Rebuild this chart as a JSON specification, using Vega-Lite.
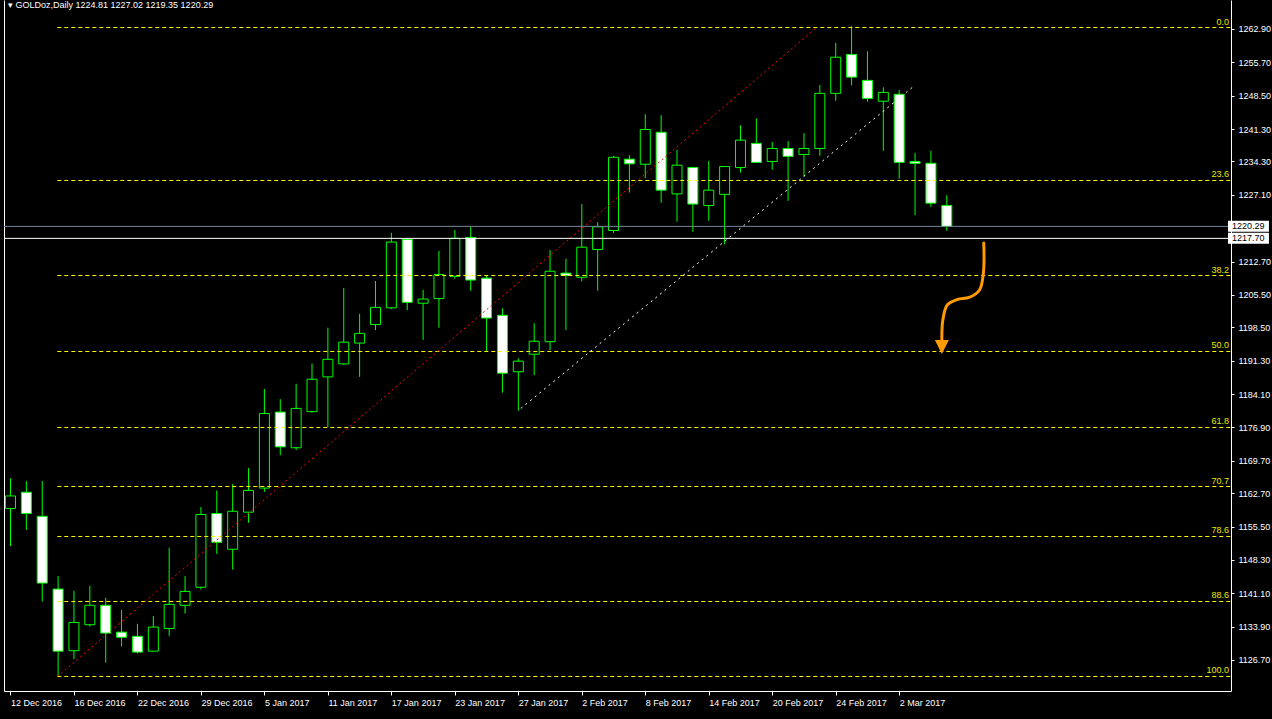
{
  "$schema": "https://vega.github.io/schema/vega-lite/v6.json",
  "width": 1227,
  "height": 691,
  "autosize": {"type": "none"},
  "padding": {"left": 4, "top": 0, "right": 41, "bottom": 28},
  "background": "#000000",
  "config": {"view": {"stroke": null}, "axis": {"grid": false}},
  "title": {"text": "▾  GOLDoz,Daily  1224.81 1227.02 1219.35 1220.29", "anchor": "start", "frame": "group", "orient": "top", "offset": -17, "dx": 4, "baseline": "alphabetic", "color": "#ffffff", "font": "Liberation Sans", "fontSize": 9, "fontWeight": "normal"},
  "datasets": {
    "candles": [
      {"i":0,"d":"12 Dec 2016","o":1159.4,"h":1165.9,"l":1151.3,"c":1162.1},
      {"i":1,"d":"13 Dec 2016","o":1162.9,"h":1165.3,"l":1154.8,"c":1158.3},
      {"i":2,"d":"14 Dec 2016","o":1157.7,"h":1165.3,"l":1139.3,"c":1143.3},
      {"i":3,"d":"15 Dec 2016","o":1142.0,"h":1144.8,"l":1123.1,"c":1128.6},
      {"i":4,"d":"16 Dec 2016","o":1128.7,"h":1141.6,"l":1126.9,"c":1134.8},
      {"i":5,"d":"19 Dec 2016","o":1134.3,"h":1142.7,"l":1133.9,"c":1138.5},
      {"i":6,"d":"20 Dec 2016","o":1138.5,"h":1140.1,"l":1126.1,"c":1132.5},
      {"i":7,"d":"21 Dec 2016","o":1132.7,"h":1137.5,"l":1129.6,"c":1131.6},
      {"i":8,"d":"22 Dec 2016","o":1131.8,"h":1134.5,"l":1128.1,"c":1128.4},
      {"i":9,"d":"23 Dec 2016","o":1128.6,"h":1136.2,"l":1128.5,"c":1133.8},
      {"i":10,"d":"27 Dec 2016","o":1133.5,"h":1150.9,"l":1131.9,"c":1138.7},
      {"i":11,"d":"28 Dec 2016","o":1138.5,"h":1144.8,"l":1136.7,"c":1141.5},
      {"i":12,"d":"29 Dec 2016","o":1142.4,"h":1159.7,"l":1141.9,"c":1158.1},
      {"i":13,"d":"30 Dec 2016","o":1158.3,"h":1163.3,"l":1149.6,"c":1152.1},
      {"i":14,"d":"3 Jan 2017","o":1150.6,"h":1164.7,"l":1146.2,"c":1158.8},
      {"i":15,"d":"4 Jan 2017","o":1158.6,"h":1168.1,"l":1156.3,"c":1163.3},
      {"i":16,"d":"5 Jan 2017","o":1163.8,"h":1185.2,"l":1163.0,"c":1179.9},
      {"i":17,"d":"6 Jan 2017","o":1180.2,"h":1183.0,"l":1170.9,"c":1172.7},
      {"i":18,"d":"9 Jan 2017","o":1172.5,"h":1186.3,"l":1172.0,"c":1181.0},
      {"i":19,"d":"10 Jan 2017","o":1180.3,"h":1190.7,"l":1180.1,"c":1187.3},
      {"i":20,"d":"11 Jan 2017","o":1187.8,"h":1198.4,"l":1177.0,"c":1191.6},
      {"i":21,"d":"12 Jan 2017","o":1190.6,"h":1207.0,"l":1190.4,"c":1195.3},
      {"i":22,"d":"13 Jan 2017","o":1195.1,"h":1201.4,"l":1187.8,"c":1197.2},
      {"i":23,"d":"16 Jan 2017","o":1199.1,"h":1208.5,"l":1197.9,"c":1202.8},
      {"i":24,"d":"17 Jan 2017","o":1202.7,"h":1218.9,"l":1202.4,"c":1216.9},
      {"i":25,"d":"18 Jan 2017","o":1217.5,"h":1217.8,"l":1202.2,"c":1203.9},
      {"i":26,"d":"19 Jan 2017","o":1203.7,"h":1206.6,"l":1195.8,"c":1204.6},
      {"i":27,"d":"20 Jan 2017","o":1204.7,"h":1215.0,"l":1198.4,"c":1209.9},
      {"i":28,"d":"23 Jan 2017","o":1209.5,"h":1219.5,"l":1209.0,"c":1217.7},
      {"i":29,"d":"24 Jan 2017","o":1217.9,"h":1220.2,"l":1206.4,"c":1208.7},
      {"i":30,"d":"25 Jan 2017","o":1209.1,"h":1209.8,"l":1193.2,"c":1200.5},
      {"i":31,"d":"26 Jan 2017","o":1201.1,"h":1202.6,"l":1184.4,"c":1188.6},
      {"i":32,"d":"27 Jan 2017","o":1188.9,"h":1191.8,"l":1180.5,"c":1191.2},
      {"i":33,"d":"30 Jan 2017","o":1192.7,"h":1199.4,"l":1188.2,"c":1195.5},
      {"i":34,"d":"31 Jan 2017","o":1195.4,"h":1215.2,"l":1193.6,"c":1210.6},
      {"i":35,"d":"1 Feb 2017","o":1210.2,"h":1213.3,"l":1197.9,"c":1209.7},
      {"i":36,"d":"2 Feb 2017","o":1209.3,"h":1225.1,"l":1208.4,"c":1215.8},
      {"i":37,"d":"3 Feb 2017","o":1215.3,"h":1221.2,"l":1206.4,"c":1220.2},
      {"i":38,"d":"6 Feb 2017","o":1219.4,"h":1235.5,"l":1218.9,"c":1235.2},
      {"i":39,"d":"7 Feb 2017","o":1234.8,"h":1235.7,"l":1227.6,"c":1233.8},
      {"i":40,"d":"8 Feb 2017","o":1233.7,"h":1244.5,"l":1230.7,"c":1241.2},
      {"i":41,"d":"9 Feb 2017","o":1240.6,"h":1244.3,"l":1225.4,"c":1228.1},
      {"i":42,"d":"10 Feb 2017","o":1227.3,"h":1236.8,"l":1221.3,"c":1233.5},
      {"i":43,"d":"13 Feb 2017","o":1233.0,"h":1233.2,"l":1219.1,"c":1225.1},
      {"i":44,"d":"14 Feb 2017","o":1224.8,"h":1234.4,"l":1221.5,"c":1228.1},
      {"i":45,"d":"15 Feb 2017","o":1227.2,"h":1233.3,"l":1216.4,"c":1233.2},
      {"i":46,"d":"16 Feb 2017","o":1233.0,"h":1242.1,"l":1231.9,"c":1238.9},
      {"i":47,"d":"17 Feb 2017","o":1238.2,"h":1243.6,"l":1234.0,"c":1234.1},
      {"i":48,"d":"20 Feb 2017","o":1234.3,"h":1238.5,"l":1232.5,"c":1237.1},
      {"i":49,"d":"21 Feb 2017","o":1237.1,"h":1238.7,"l":1225.8,"c":1235.4},
      {"i":50,"d":"22 Feb 2017","o":1235.8,"h":1240.4,"l":1231.0,"c":1237.1},
      {"i":51,"d":"23 Feb 2017","o":1237.1,"h":1250.8,"l":1235.5,"c":1249.0},
      {"i":52,"d":"24 Feb 2017","o":1249.0,"h":1259.9,"l":1247.4,"c":1256.8},
      {"i":53,"d":"27 Feb 2017","o":1257.4,"h":1263.5,"l":1250.7,"c":1252.5},
      {"i":54,"d":"28 Feb 2017","o":1251.8,"h":1258.1,"l":1247.2,"c":1247.9},
      {"i":55,"d":"1 Mar 2017","o":1247.3,"h":1250.3,"l":1236.6,"c":1249.2},
      {"i":56,"d":"2 Mar 2017","o":1248.8,"h":1249.7,"l":1230.6,"c":1234.1},
      {"i":57,"d":"3 Mar 2017","o":1234.3,"h":1236.1,"l":1222.7,"c":1233.9},
      {"i":58,"d":"6 Mar 2017","o":1233.9,"h":1236.6,"l":1224.5,"c":1225.3},
      {"i":59,"d":"7 Mar 2017","o":1224.81,"h":1227.02,"l":1219.35,"c":1220.29}
    ],
    "fib": [
      {"level":"0.0","p":1263.21,"i":2.95},
      {"level":"23.6","p":1230.19,"i":2.95},
      {"level":"38.2","p":1209.68,"i":2.95},
      {"level":"50.0","p":1193.28,"i":2.95},
      {"level":"61.8","p":1176.88,"i":2.95},
      {"level":"70.7","p":1164.14,"i":2.95},
      {"level":"78.6","p":1153.35,"i":2.95},
      {"level":"88.6","p":1139.32,"i":2.95},
      {"level":"100.0","p":1123.13,"i":2.95}
    ],
    "fibdiag": [
      {"k":0,"i":2.95,"p":1123.13},
      {"k":1,"i":50.8,"p":1263.21}
    ],
    "support": [
      {"k":0,"i":32.16,"p":1181.0},
      {"k":1,"i":56.99,"p":1250.74}
    ],
    "bid": [{"p":1220.29}],
    "level": [{"p":1217.70}],
    "boxes": [{"p":1220.29},{"p":1217.70}],
    "arrow": [
      {"k":0,"i":61.33,"p":1216.7},
      {"k":1,"i":61.31,"p":1210.44},
      {"k":2,"i":61.06,"p":1206.56},
      {"k":3,"i":60.41,"p":1204.94},
      {"k":4,"i":59.66,"p":1204.51},
      {"k":5,"i":59.03,"p":1203.31},
      {"k":6,"i":58.75,"p":1200.08},
      {"k":7,"i":58.69,"p":1195.33}
    ],
    "head": [
      {"i":58.69,"p":1194.25}
    ]
  },
  "resolve": {"axis": {"x": "independent", "y": "independent"}},
  "layer": [
    {
      "data": {"name": "candles"},
      "mark": {"type": "rule", "color": "#00ff00", "strokeWidth": 1},
      "encoding": {
        "x": {"field": "i", "type": "quantitative", "title": null,
          "scale": {"domain": [-0.09375, 76.59375], "nice": false, "zero": false},
          "axis": {"values": [0,4,8,12,16,20,24,28,32,36,40,44,48,52,56],
            "labelExpr": "['12 Dec 2016','16 Dec 2016','22 Dec 2016','29 Dec 2016','5 Jan 2017','11 Jan 2017','17 Jan 2017','23 Jan 2017','27 Jan 2017','2 Feb 2017','8 Feb 2017','14 Feb 2017','20 Feb 2017','24 Feb 2017','2 Mar 2017'][datum.value/4]",
            "labelAlign": "left", "labelBaseline": "top", "labelDx": -1, "labelPadding": 3, "labelFlush": false, "labelOverlap": false,
            "labelColor": "#ffffff", "labelFont": "Liberation Sans", "labelFontSize": 9,
            "tickColor": "#ffffff", "tickSize": 4, "domainColor": "#ffffff", "grid": false}},
        "y": {"field": "l", "type": "quantitative", "title": null,
          "scale": {"domain": [1120.0, 1269.15], "nice": false, "zero": false},
          "axis": {"orient": "left", "labels": false, "ticks": false, "domain": true, "domainColor": "#ffffff", "grid": false}},
        "y2": {"field": "h"}
      }
    },
    {
      "data": {"name": "candles"},
      "mark": {"type": "bar", "width": 10, "stroke": "#00ff00", "strokeWidth": 1, "clip": true},
      "encoding": {
        "x": {"field": "i", "type": "quantitative", "title": null, "axis": null},
        "y": {"field": "o", "type": "quantitative", "title": null,
          "axis": {"orient": "right", "values": [1270.1,1262.9,1255.7,1248.5,1241.3,1234.3,1227.1,1212.7,1205.5,1198.5,1191.3,1184.1,1176.9,1169.7,1162.7,1155.5,1148.3,1141.1,1133.9,1126.7,1119.7],
            "format": ".2f", "labelColor": "#ffffff", "labelFont": "Liberation Sans", "labelFontSize": 9,
            "labelPadding": 4, "labelFlush": false, "labelOverlap": false,
            "tickColor": "#ffffff", "tickSize": 3, "domainColor": "#ffffff", "grid": false}},
        "y2": {"field": "c"},
        "fill": {"condition": {"test": "datum.c >= datum.o", "value": "#000000"}, "value": "#ffffff"}
      }
    },
    {
      "data": {"name": "fib"},
      "mark": {"type": "rule", "color": "#ffff00", "strokeWidth": 1, "strokeDash": [4, 3]},
      "encoding": {
        "x": {"field": "i", "type": "quantitative", "title": null, "axis": null},
        "x2": {"value": "width"},
        "y": {"field": "p", "type": "quantitative", "title": null, "axis": null}
      }
    },
    {
      "data": {"name": "fib"},
      "mark": {"type": "text", "align": "right", "baseline": "alphabetic", "dx": -2, "dy": -3, "font": "Liberation Sans", "fontSize": 9, "color": "#e8e800"},
      "encoding": {
        "x": {"value": "width"},
        "y": {"field": "p", "type": "quantitative", "title": null, "axis": null},
        "text": {"field": "level"}
      }
    },
    {
      "data": {"name": "fibdiag"},
      "mark": {"type": "line", "color": "#ff0000", "strokeWidth": 1, "strokeDash": [2, 3]},
      "encoding": {
        "x": {"field": "i", "type": "quantitative", "title": null, "axis": null},
        "y": {"field": "p", "type": "quantitative", "title": null, "axis": null},
        "order": {"field": "k"}
      }
    },
    {
      "data": {"name": "support"},
      "mark": {"type": "line", "color": "#ffffff", "strokeWidth": 1, "strokeDash": [2, 4]},
      "encoding": {
        "x": {"field": "i", "type": "quantitative", "title": null, "axis": null},
        "y": {"field": "p", "type": "quantitative", "title": null, "axis": null},
        "order": {"field": "k"}
      }
    },
    {
      "data": {"name": "bid"},
      "mark": {"type": "rule", "color": "#778899", "strokeWidth": 1},
      "encoding": {
        "y": {"field": "p", "type": "quantitative", "title": null, "axis": null}
      }
    },
    {
      "data": {"name": "level"},
      "mark": {"type": "rule", "color": "#ffffff", "strokeWidth": 1},
      "encoding": {
        "y": {"field": "p", "type": "quantitative", "title": null, "axis": null}
      }
    },
    {
      "data": {"name": "boxes"},
      "mark": {"type": "rect", "height": 11, "color": "#ffffff", "clip": false},
      "encoding": {
        "x": {"datum": 76.72, "type": "quantitative", "axis": null},
        "x2": {"datum": 79.3},
        "y": {"field": "p", "type": "quantitative", "title": null, "axis": null}
      }
    },
    {
      "data": {"name": "boxes"},
      "mark": {"type": "text", "align": "left", "baseline": "middle", "dx": 4, "font": "Liberation Sans", "fontSize": 9, "color": "#000000"},
      "encoding": {
        "x": {"datum": 76.72, "type": "quantitative", "axis": null},
        "y": {"field": "p", "type": "quantitative", "title": null, "axis": null},
        "text": {"field": "p", "type": "quantitative", "format": ".2f"}
      }
    },
    {
      "data": {"name": "arrow"},
      "mark": {"type": "line", "color": "#ff9a00", "strokeWidth": 3, "interpolate": "catmull-rom", "strokeCap": "round"},
      "encoding": {
        "x": {"field": "i", "type": "quantitative", "title": null, "axis": null},
        "y": {"field": "p", "type": "quantitative", "title": null, "axis": null},
        "order": {"field": "k"}
      }
    },
    {
      "data": {"name": "head"},
      "mark": {"type": "point", "shape": "M-1,-1L1,-1L0,1Z", "size": 196, "filled": true, "color": "#ff9a00", "opacity": 1},
      "encoding": {
        "x": {"field": "i", "type": "quantitative", "title": null, "axis": null},
        "y": {"field": "p", "type": "quantitative", "title": null, "axis": null}
      }
    }
  ]
}
